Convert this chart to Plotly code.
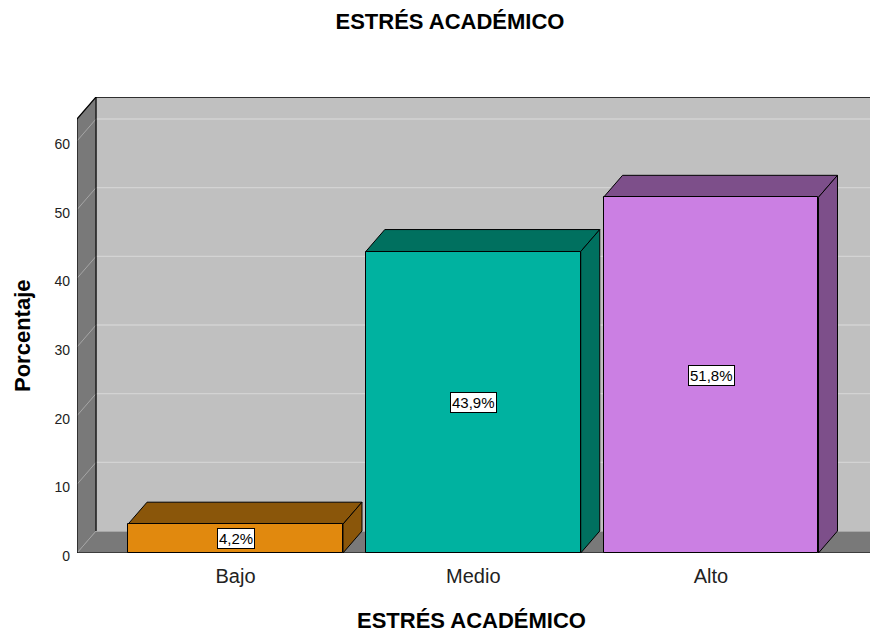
import plotly.graph_objects as go

categories = ["Bajo", "Medio", "Alto"]
percentages = [4.2, 43.9, 51.8]
y_ticks = [0, 10, 20, 30, 40, 50, 60]
front_colors = ["#E1890E", "#00B2A0", "#CB7FE3"]
top_colors = ["#8A560A", "#00705F", "#7D4F8A"]

# 3D geometry (in axis units)
DX = 0.08      # depth offset along x
DY = 3.2       # depth offset along y
BW = 0.904     # bar width
X0, X1 = -0.6667, 2.7024
WALL_TOP = 63.2
FLOOR_RIGHT = 2.669

xs = list(range(len(categories)))

shapes = []
def poly(pts, fill, line="black", lw=1):
    p = "M " + " L ".join(f"{x},{y}" for x, y in pts) + " Z"
    return dict(type="path", path=p, xref="x", yref="y", fillcolor=fill,
                line=dict(color=line, width=lw), layer="below")

def seg(x0, y0, x1, y1, color, lw=1):
    return dict(type="line", x0=x0, y0=y0, x1=x1, y1=y1, xref="x", yref="y",
                line=dict(color=color, width=lw), layer="below")

# back wall
shapes.append(dict(type="rect", x0=X0 + DX, x1=3.2, y0=DY, y1=WALL_TOP + DY,
                   xref="x", yref="y", fillcolor="#C0C0C0", line=dict(width=0), layer="below"))
# floor
shapes.append(poly([(X0, 0), (FLOOR_RIGHT, 0), (FLOOR_RIGHT + DX, DY), (X0 + DX, DY)], "#797979", line="#797979", lw=0.5))
# side wall
shapes.append(poly([(X0, 0), (X0, WALL_TOP), (X0 + DX, WALL_TOP + DY), (X0 + DX, DY)], "#797979", line="#797979", lw=0.5))
# gridlines
for t in y_ticks:
    shapes.append(seg(X0 + DX, t + DY, 3.2, t + DY, "#D3D3D3", 1.3 if t else 1))
    shapes.append(seg(X0, t, X0 + DX, t + DY, "#A6A6A6", 1))
# wall edges
shapes.append(seg(X0, 0, X0, WALL_TOP, "black", 1.2))
shapes.append(seg(X0, WALL_TOP, X0 + DX, WALL_TOP + DY, "black", 1.2))
shapes.append(seg(X0 + DX, DY, X0 + DX, WALL_TOP + DY, "black", 1.2))
shapes.append(seg(X0 + DX, WALL_TOP + DY, 3.2, WALL_TOP + DY, "black", 1.2))
shapes.append(seg(X0, 0, FLOOR_RIGHT, 0, "black", 1.2))

# bar top and side faces
for x, v, c in zip(xs, percentages, top_colors):
    l, r = x - BW / 2, x + BW / 2
    shapes.append(poly([(l, v), (r, v), (r + DX, v + DY), (l + DX, v + DY)], c))
    shapes.append(poly([(r, 0), (r, v), (r + DX, v + DY), (r + DX, DY)], c))

fig = go.Figure()
fig.add_trace(go.Bar(
    x=xs, y=percentages, width=BW,
    marker=dict(color=front_colors, line=dict(color="black", width=1)),
    hoverinfo="skip", showlegend=False,
))

annotations = []
for x, v in zip(xs, percentages):
    annotations.append(dict(
        x=x, y=v / 2, xref="x", yref="y",
        text=f"{v:.1f}%".replace(".", ","), showarrow=False,
        font=dict(family="Liberation Sans, Arial", size=15, color="black"),
        bgcolor="white", bordercolor="black", borderwidth=1, borderpad=1,
    ))
annotations.append(dict(
    x=-0.0687, y=0.478, xref="paper", yref="paper", text="<b>Porcentaje</b>",
    textangle=-90, showarrow=False, xanchor="center", yanchor="middle",
    font=dict(family="Liberation Sans, Arial", size=22, color="black"),
))
annotations.append(dict(
    x=0.493, y=-0.147, xref="paper", yref="paper", text="<b>ESTRÉS ACADÉMICO</b>",
    showarrow=False, xanchor="center", yanchor="middle",
    font=dict(family="Liberation Sans, Arial", size=22, color="black"),
))

# page body has an 8px margin, so the figure is 8px smaller and shifted
fig.update_layout(
    width=870, height=625,
    margin=dict(l=69, r=0, t=89, b=80, autoexpand=False),
    paper_bgcolor="white", plot_bgcolor="white",
    title=dict(text="<b>ESTRÉS ACADÉMICO</b>", x=442 / 870, xanchor="center",
               y=1 - 13 / 625, yanchor="middle", automargin=False,
               font=dict(family="Liberation Sans, Arial", size=22, color="black")),
    shapes=shapes,
    annotations=annotations,
    xaxis=dict(range=[X0, X1], tickvals=xs, ticktext=categories, showgrid=False,
               zeroline=False, showline=False, ticks="", ticklabelstandoff=9,
               automargin=False,
               tickfont=dict(family="Liberation Sans, Arial", size=20, color="#222")),
    yaxis=dict(range=[0, 456 / 6.867], tickvals=y_ticks, showgrid=False,
               zeroline=False, showline=False, ticks="", ticklabelstandoff=6,
               ticklabelshift=3, automargin=False,
               tickfont=dict(family="Liberation Sans, Arial", size=14, color="#222")),
    bargap=0,
)

fig.write_html("out.html")
